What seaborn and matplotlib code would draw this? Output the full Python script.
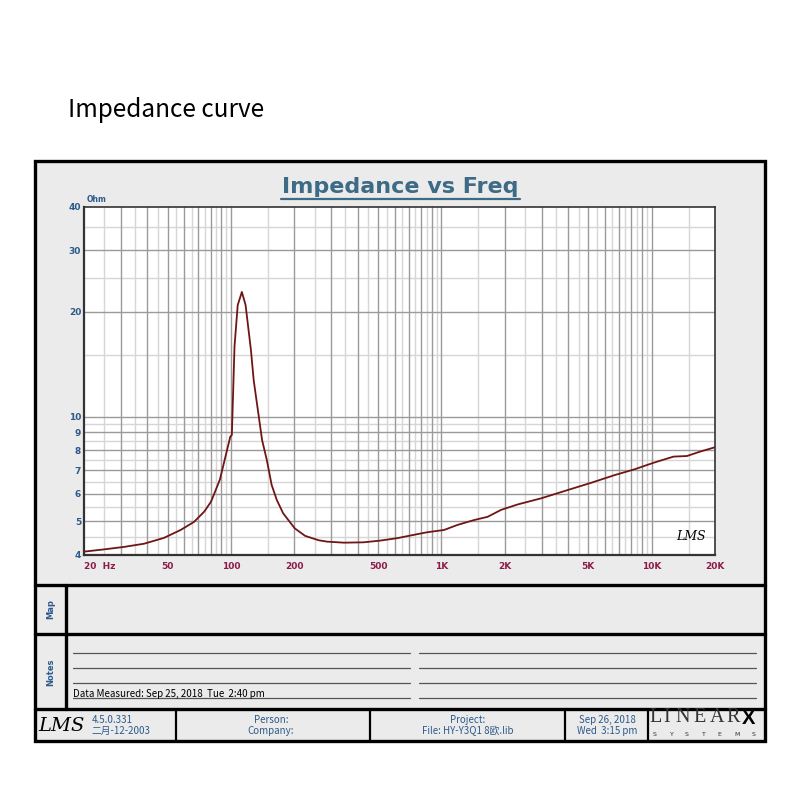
import matplotlib
matplotlib.use("Agg")
import matplotlib.pyplot as plt
import seaborn as sns
import pandas as pd
from matplotlib.patches import Rectangle
from matplotlib.lines import Line2D

# impedance curve (Hz, Ohm)
freq_hz = [20, 24.8, 31, 38.6, 48, 57.6, 66.7, 74.6, 80.3, 84.6, 88.6, 99.2, 100.9,
           103.9, 107.6, 112.6, 117.3, 124.4, 128.2, 140.5, 148, 156, 165, 177, 201,
           225, 261, 286, 344, 427, 512, 615, 739, 857, 1030, 1192, 1430, 1660, 1921,
           2308, 2982, 3994, 5157, 6681, 8276, 10250, 12700, 14710, 17020, 20000]
impedance_ohm = [4.09, 4.15, 4.22, 4.31, 4.48, 4.72, 4.98, 5.33, 5.69, 6.15, 6.60, 8.75, 8.85,
                 15.9, 20.9, 22.8, 20.9, 15.5, 12.7, 8.56, 7.5, 6.36, 5.76, 5.27, 4.77,
                 4.54, 4.41, 4.37, 4.34, 4.35, 4.40, 4.47, 4.57, 4.65, 4.72, 4.88, 5.04, 5.15, 5.39,
                 5.59, 5.82, 6.15, 6.45, 6.79, 7.05, 7.37, 7.67, 7.70, 7.93, 8.16]

x_ticks = [20, 50, 100, 200, 500, 1000, 2000, 5000, 10000, 20000]
x_tick_labels = ["20  Hz", "50", "100", "200", "500", "1K", "2K", "5K", "10K", "20K"]
y_ticks = [4, 5, 6, 7, 8, 9, 10, 20, 30, 40]
y_tick_labels = ["4", "5", "6", "7", "8", "9", "10", "20", "30", "40"]

main_title = "Impedance curve"
chart_title = "Impedance vs Freq"
measured_text = "Data Measured: Sep 25, 2018  Tue  2:40 pm"
version_text = ["4.5.0.331", "二月-12-2003"]
person_text = ["Person:", "Company:"]
project_text = ["Project:", "File: HY-Y3Q1 8欧.lib"]
date_text = ["Sep 26, 2018", "Wed  3:15 pm"]

blue = "#2d5a8a"
maroon = "#8b1c4a"
title_col = "#3d6a85"
panel = "#ebebeb"
narrow = ["Liberation Sans Narrow", "Noto Sans CJK SC", "DejaVu Sans"]

sns.set_style("white")
plt.rcParams["font.family"] = ["DejaVu Sans", "Noto Sans CJK SC"]

W = H = 800.0


def fx(px):
    return px / W


def fy(py):
    return 1 - py / H


fig = plt.figure(figsize=(8, 8), dpi=100)
fig.patch.set_facecolor("white")

fig.text(fx(68), fy(110), main_title, fontsize=17.5, va="center", ha="left",
         family=["Noto Sans CJK SC", "DejaVu Sans"], color="black")

# outer frame
fig.patches.append(Rectangle((fx(35), fy(741)), fx(765) - fx(35), fy(161) - fy(741),
                             transform=fig.transFigure, facecolor=panel,
                             edgecolor="black", linewidth=2.4, zorder=-5))


def hline(x0, x1, y, lw=2.4, color="black"):
    fig.lines.append(Line2D([fx(x0), fx(x1)], [fy(y), fy(y)], transform=fig.transFigure,
                            color=color, linewidth=lw))


def vline(x, y0, y1, lw=2.4, color="black"):
    fig.lines.append(Line2D([fx(x), fx(x)], [fy(y0), fy(y1)], transform=fig.transFigure,
                            color=color, linewidth=lw))


for yy in [585, 634, 709]:
    hline(35, 765, yy)
vline(66, 585, 709)
for xx in [175.5, 370, 565, 648]:
    vline(xx, 709, 741, lw=1.6)

# notes lines
for yy in [653, 668, 683, 698]:
    hline(73, 410, yy, lw=0.9, color="#555555")
    hline(419, 756, yy, lw=0.9, color="#555555")

fig.text(fx(51), fy(609), "Map", rotation=90, color=blue, fontsize=6, fontweight="bold",
         ha="center", va="center")
fig.text(fx(51), fy(672), "Notes", rotation=90, color=blue, fontsize=6, fontweight="bold",
         ha="center", va="center")
fig.text(fx(73), fy(697), measured_text, fontsize=7, color="black", ha="left",
         va="baseline", family=narrow)

# footer
fig.text(fx(61), fy(726), "LMS", fontsize=14, style="italic", color="black",
         ha="center", va="center", family="DejaVu Serif")
fig.text(fx(92), fy(720), version_text[0], fontsize=7, color=blue, ha="left", va="center",
         family=narrow)
fig.text(fx(92), fy(731), version_text[1], fontsize=7, color=blue, ha="left", va="center",
         family=narrow)
for cx, lines in [(271, person_text), (468, project_text), (607, date_text)]:
    fig.text(fx(cx), fy(720), lines[0], fontsize=7, color=blue, ha="center", va="center",
             family=narrow)
    fig.text(fx(cx), fy(731), lines[1], fontsize=7, color=blue, ha="center", va="center",
             family=narrow)

logo_letters = ["L", "I", "N", "E", "A", "R"]
logo_x = [656, 667, 683, 700, 717, 733]
for ch, xx in zip(logo_letters, logo_x):
    fig.text(fx(xx), fy(718), ch, fontsize=14.5, color="#333333", ha="center", va="center",
             family="Liberation Serif")
fig.text(fx(749), fy(718), "X", fontsize=14.5, color="black", fontweight="bold",
         ha="center", va="center", family="Liberation Sans")
for ch, xx in zip("SYSTEMS", [655, 672, 687, 704, 719, 737, 754]):
    fig.text(fx(xx), fy(734), ch, fontsize=4.5, color="#333333", ha="center",
             va="center")

# chart title with underline
fig.text(fx(400.5), fy(187), chart_title, fontsize=16, fontweight="bold",
         color=title_col, ha="center", va="center")
hline(281, 520, 199, lw=1.6, color=title_col)

# plot axes
ax = fig.add_axes([fx(84), fy(555), fx(715) - fx(84), fy(207) - fy(555)])
ax.set_facecolor("white")
ax.set_xscale("log")
ax.set_yscale("log")

# grid: integer multiples dark, half steps light
for dec in [10, 100, 1000, 10000]:
    for k in range(1, 10):
        for val, col in [(k * dec, "#9a9a9a"), ((k + 0.5) * dec, "#d6d6d6")]:
            if 20 < val < 20000:
                ax.axvline(val, color=col, linewidth=1.0, zorder=1 if col == "#d6d6d6" else 2)
for val in [4.5, 5.5, 6.5, 7.5, 8.5, 9.5, 15, 25, 35]:
    ax.axhline(val, color="#d6d6d6", linewidth=1.0, zorder=1)
for val in [5, 6, 7, 8, 9, 10, 20, 30]:
    ax.axhline(val, color="#9a9a9a", linewidth=1.0, zorder=2)

df = pd.DataFrame({"freq": freq_hz, "ohm": impedance_ohm})
sns.lineplot(data=df, x="freq", y="ohm", ax=ax, color="#6e1616", linewidth=1.3,
             zorder=5, estimator=None)

ax.set_xlim(20, 20000)
ax.set_ylim(4, 40)
ax.set_xticks(x_ticks)
ax.set_xticklabels(x_tick_labels)
ax.set_yticks(y_ticks)
ax.set_yticklabels(y_tick_labels)
ax.xaxis.set_minor_locator(matplotlib.ticker.NullLocator())
ax.yaxis.set_minor_locator(matplotlib.ticker.NullLocator())
ax.tick_params(axis="both", length=0)
ax.tick_params(axis="x", pad=5, labelsize=6.5, labelcolor=maroon)
ax.tick_params(axis="y", pad=2, labelsize=6.5, labelcolor=blue)
for lab in ax.get_xticklabels() + ax.get_yticklabels():
    lab.set_fontweight("bold")
ax.get_xticklabels()[0].set_ha("left")
ax.set_xlabel("")
ax.set_ylabel("")
for side, sp in ax.spines.items():
    sp.set_visible(True)
    sp.set_color("#333333")
    sp.set_linewidth(1.6 if side in ("left", "bottom") else 1.2)

ax.text(0.985, 0.035, "LMS", transform=ax.transAxes, fontsize=9, style="italic",
        family="DejaVu Serif", ha="right", va="bottom", color="black", zorder=6)
fig.text(fx(87), fy(199), "Ohm", fontsize=5.5, fontweight="bold", color=blue,
         ha="left", va="center")

fig.savefig("out.png", dpi=100, facecolor="white")
